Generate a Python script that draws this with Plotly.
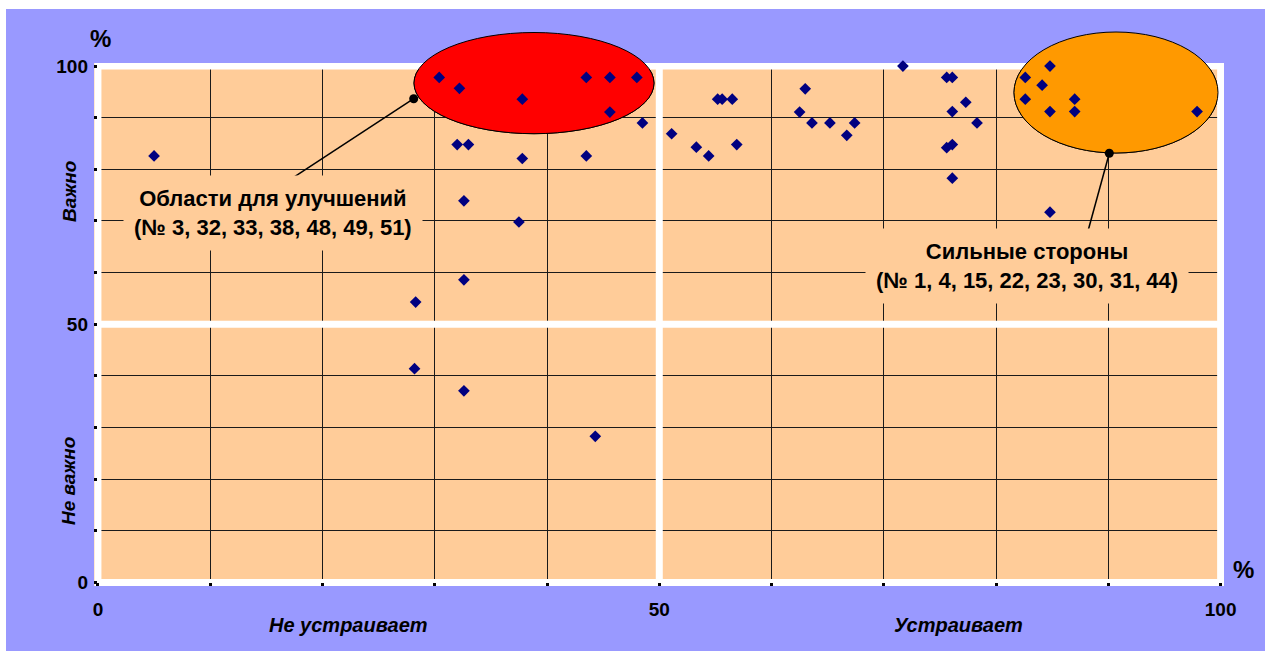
import plotly.graph_objects as go

# ---- data: satisfaction (%) vs importance (%) for 51 items ----
satisfaction = [5.0, 30.4, 32.2, 37.8, 43.5, 45.6, 48.0, 45.6, 48.5, 32.0,
                33.0, 37.8, 43.5, 32.6, 37.5, 32.6, 28.3, 28.2, 32.6, 44.3,
                51.1, 53.3, 54.4, 55.2, 55.6, 56.5, 56.9, 63.0, 62.5, 63.6,
                65.2, 67.4, 66.7, 71.7, 75.6, 76.1, 77.3, 76.1, 78.3, 75.6,
                76.1, 76.1, 84.8, 82.6, 84.1, 82.6, 87.0, 84.8, 87.0, 84.8,
                97.9]
importance = [82.6, 97.8, 95.7, 93.6, 97.8, 97.8, 97.8, 91.1, 89.0, 84.8,
              84.8, 82.1, 82.6, 73.9, 69.8, 58.6, 54.3, 41.4, 37.1, 28.3,
              86.9, 84.3, 82.6, 93.6, 93.6, 93.6, 84.8, 95.6, 91.1, 89.0,
              89.0, 89.0, 86.6, 100.0, 97.8, 97.8, 93.0, 91.2, 89.0, 84.2,
              84.8, 78.3, 100.0, 97.8, 96.3, 93.6, 93.6, 91.2, 91.2, 71.7,
              91.2]

tick_values = [0, 10, 20, 30, 40, 50, 60, 70, 80, 90, 100]
tick_labels = ["0", "", "", "", "", "50", "", "", "", "", "100"]

x_title_left = "Не устраивает"
x_title_right = "Устраивает"
y_title_top = "Важно"
y_title_bottom = "Не важно"
callout_weak = "Области для улучшений<br>(№ 3, 32, 33, 38, 48, 49, 51)"
callout_strong = "Сильные стороны<br>(№ 1, 4, 15, 22, 23, 30, 31, 44)"

# ---- layout geometry ----
W, H = 1265, 651
ML, MR, MT, MB = 94, 41, 63, 65
XR = [-0.35, 100.3]
YR = [-0.7, 100.6]
PW, PH = W - ML - MR, H - MT - MB

BLUE = "#9999FF"
TAN = "#FFCC99"
FONT = "Liberation Sans, Arial, sans-serif"


def px(xp):
    return (xp - ML) / PW


def py(yp):
    return (H - MB - yp) / PH


def dx(xp):
    return XR[0] + px(xp) * (XR[1] - XR[0])


def dy(yp):
    return YR[0] + py(yp) * (YR[1] - YR[0])


fig = go.Figure()
fig.add_trace(go.Scatter(
    x=satisfaction, y=importance, mode="markers",
    marker=dict(symbol="diamond", size=9, color="#000080"),
    cliponaxis=False, hoverinfo="x+y", showlegend=False))

shapes = []
# white frame and central cross (above grid, below points)
shapes.append(dict(type="rect", xref="x", yref="y", x0=0, x1=100, y0=0, y1=100,
                   line=dict(color="white", width=7), layer="between"))
shapes.append(dict(type="line", xref="x", yref="y", x0=50, x1=50, y0=0, y1=100,
                   line=dict(color="white", width=7), layer="between"))
shapes.append(dict(type="line", xref="x", yref="y", x0=0, x1=100, y0=50, y1=50,
                   line=dict(color="white", width=7), layer="between"))

ellipses = [
    (414, 654, 32.5, 133.7, "#FF0000"),
    (1014, 1218, 32, 153, "#FF9900"),
]
for x0, x1, y0, y1, col in ellipses:
    # part outside the plot area
    shapes.append(dict(type="circle", xref="paper", yref="paper",
                       x0=px(x0), x1=px(x1), y0=py(y1), y1=py(y0),
                       fillcolor=col, line=dict(color="black", width=1), layer="below"))
    # part inside the plot area: above grid, below markers
    shapes.append(dict(type="circle", xref="x", yref="y",
                       x0=dx(x0), x1=dx(x1), y0=dy(y1), y1=dy(y0),
                       fillcolor=col, line=dict(color="black", width=1), layer="between"))

# callout leader lines and dots
for (ax, ay, bx, by) in [(413.7, 98.7, 293.5, 177.3), (1109.3, 153.3, 1088, 231)]:
    shapes.append(dict(type="line", xref="paper", yref="paper",
                       x0=px(ax), y0=py(ay), x1=px(bx), y1=py(by),
                       line=dict(color="black", width=1.5), layer="above"))
    r = 4.5
    shapes.append(dict(type="circle", xref="paper", yref="paper",
                       x0=px(ax - r), x1=px(ax + r), y0=py(ay + r), y1=py(ay - r),
                       fillcolor="black", line=dict(color="black", width=0), layer="above"))

# white image margins on top and left
shapes.append(dict(type="rect", xref="paper", yref="paper",
                   x0=px(-5), x1=px(W + 5), y0=py(9), y1=py(-5),
                   fillcolor="white", line=dict(width=0), layer="above"))
shapes.append(dict(type="rect", xref="paper", yref="paper",
                   x0=px(-5), x1=px(6), y0=py(H + 5), y1=py(-5),
                   fillcolor="white", line=dict(width=0), layer="above"))

bold = dict(family=FONT, color="black", weight="bold")


def ann(text, xp, yp, size, italic=False, angle=0, bg=None, pad=1):
    f = dict(bold, size=size)
    if italic:
        f["style"] = "italic"
    d = dict(text=text, xref="paper", yref="paper", x=px(xp), y=py(yp),
             xanchor="center", yanchor="middle", showarrow=False, font=f,
             textangle=angle, borderpad=pad)
    if bg:
        d["bgcolor"] = bg
    return d


annotations = [
    ann("%", 100, 39, 24),
    ann("%", 1243, 569, 24),
    ann(x_title_left, 348, 625, 20, italic=True),
    ann(x_title_right, 958, 625, 20, italic=True),
    ann(y_title_top, 69, 192, 19, italic=True, angle=-90),
    ann(y_title_bottom, 68, 481, 19, italic=True, angle=-90),
    ann(callout_weak, 273, 213, 22, bg=TAN, pad=10),
    ann(callout_strong, 1027, 266, 22, bg=TAN, pad=10),
]

axis_common = dict(
    tickvals=tick_values, ticktext=tick_labels,
    showgrid=True, gridcolor="#1a1a1a", gridwidth=1,
    zeroline=False, showline=False,
    ticks="inside", ticklen=3, tickwidth=3, tickcolor="black",
    tickfont=dict(family=FONT, size=19, color="black", weight="bold"),
    fixedrange=True,
)

fig.update_layout(
    width=W, height=H,
    margin=dict(l=ML, r=MR, t=MT, b=MB, pad=0),
    paper_bgcolor=BLUE, plot_bgcolor=TAN,
    xaxis=dict(axis_common, range=XR, ticklabelstandoff=10),
    yaxis=dict(axis_common, range=YR, ticklabelstandoff=5),
    shapes=shapes, annotations=annotations,
    showlegend=False,
)

page_js = (
    "document.body.style.margin='0';"
    "document.body.style.overflow='hidden';"
    "document.documentElement.style.overflow='hidden';"
    "document.body.style.background='" + BLUE + "';"
    "document.documentElement.style.background='" + BLUE + "';"
)

fig.write_html(
    "out.html",
    config={"displayModeBar": False},
    post_script=page_js,
)
